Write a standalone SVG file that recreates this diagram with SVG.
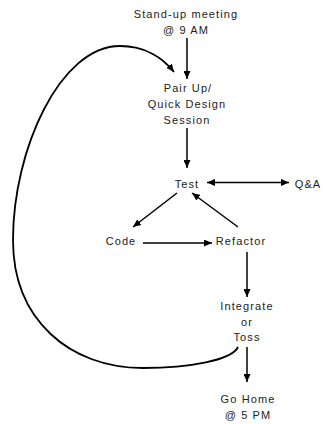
<svg xmlns="http://www.w3.org/2000/svg" width="323" height="424" viewBox="0 0 323 424">
<style>
text{font-family:"Liberation Sans",Arial,sans-serif;font-size:11px;fill:#222;text-anchor:middle;letter-spacing:1.1px}
.c{fill:none;stroke:#000;stroke-width:1.5}
.loop{fill:none;stroke:#000;stroke-width:1.8}
</style>
<defs>
<marker id="ah" viewBox="0 0 8 7" refX="8" refY="3.5" markerWidth="8" markerHeight="7" markerUnits="userSpaceOnUse" orient="auto-start-reverse">
<path d="M0,0 L8,3.5 L0,7 z" fill="#000"/>
</marker>
</defs>
<rect width="323" height="424" fill="#fff"/>
<g id="connectors">
<line class="c" x1="187" y1="38" x2="187" y2="79" marker-end="url(#ah)"/>
<line class="c" x1="187" y1="128" x2="187" y2="168" marker-end="url(#ah)"/>
<line class="c" x1="207" y1="182.5" x2="289" y2="182.5" marker-start="url(#ah)" marker-end="url(#ah)"/>
<line class="c" x1="177" y1="193" x2="133" y2="227" marker-end="url(#ah)"/>
<line class="c" x1="238" y1="227" x2="192" y2="193" marker-end="url(#ah)"/>
<line class="c" x1="143" y1="243" x2="212" y2="243" marker-end="url(#ah)"/>
<line class="c" x1="247" y1="252" x2="247" y2="297" marker-end="url(#ah)"/>
<line class="c" x1="247" y1="347" x2="247" y2="382" marker-end="url(#ah)"/>
<path class="loop" d="M238,347 C232,360 190,368 143,368 C70,368 13,320 13,240 C13,150 60,46 120,46 C145,46 163,58 174,72" marker-end="url(#ah)"/>
</g>
<g id="standup"><text x="186" y="18">Stand-up meeting</text><text x="186" y="34">@ 9 AM</text></g>
<g id="pairup"><text x="188" y="92">Pair Up/</text><text x="187" y="107.5">Quick Design</text><text x="187" y="123.5">Session</text></g>
<g id="test"><text x="187" y="188">Test</text></g>
<g id="qa"><text x="308" y="188">Q&amp;A</text></g>
<g id="code"><text x="121" y="245">Code</text></g>
<g id="refactor"><text x="241" y="245">Refactor</text></g>
<g id="integrate"><text x="247" y="310">Integrate</text><text x="247" y="326">or</text><text x="247" y="341">Toss</text></g>
<g id="gohome"><text x="248" y="402.5">Go Home</text><text x="248" y="418.5">@ 5 PM</text></g>
</svg>
